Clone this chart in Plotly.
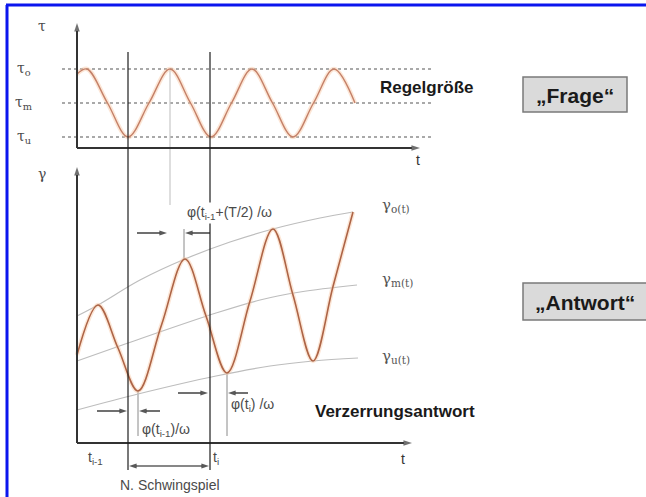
import plotly.graph_objects as go

W, H = 646, 497
FONT = "Liberation Sans, Arial, sans-serif"
GREEK = "DejaVu Serif, Liberation Serif, serif"

# ---------------- values (pixel-scale schematic) ----------------
# Top panel "Regelgröße"
TAU_LEVEL_Y = [69, 103, 137]                       # tau_o, tau_m, tau_u
TAU_LEVEL_LABELS = ["τ<sub>o</sub>", "τ<sub>m</sub>", "τ<sub>u</sub>"]
TAU_DASH_X = [62, 432]

TOP_WAVE_X = [77, 87, 107.5, 128, 149, 170, 190.5, 211, 231.5, 252, 272.5, 293, 313.5, 334, 355]
TOP_WAVE_Y = [74, 69, 103, 137, 103, 69, 103, 137, 103, 69, 103, 137, 103, 69, 103]

# Bottom panel "Verzerrungsantwort"
BOT_WAVE_X = [77, 98, 118, 138, 161.5, 185, 206, 227, 250, 273, 293, 313, 333, 353]
BOT_WAVE_Y = [355, 305, 348, 391, 325, 259, 316, 373, 301, 229, 295, 361, 286.5, 212]

ENV_O_X = [77, 98, 140, 185, 230, 273, 320, 353]
ENV_O_Y = [316, 305, 280, 259, 242, 229, 218, 212]
ENV_M_X = [77, 128, 216, 260, 300, 357]
ENV_M_Y = [361, 343, 313, 300, 292, 285]
ENV_U_X = [77, 138, 216, 270, 313, 358]
ENV_U_Y = [410, 394, 376, 366, 361, 358]
ENV_LABELS = ["γ<sub>o(t)</sub>", "γ<sub>m(t)</sub>", "γ<sub>u(t)</sub>"]
ENV_LABEL_Y = [205, 279, 356]
ENV_LABEL_X = 380

# axes (origin, ends)
AXIS_X0 = 77
TOP_AXIS = dict(y0=148, ytop=23, xend=420)
BOT_AXIS = dict(y0=443, ytop=167, xend=412)

# cursor lines t_{i-1} / t_i
CURSOR_X = [128, 210]
CURSOR_Y = [52, 470]

# phase annotations: (text, x_left, y, arrow1 tail/head, arrow2 tail/head, arrow y, guide line (x, y0, y1))
PHASES = [
    ("φ(t<sub>i-1</sub>+(T/2) /ω", 185, 213, (137, 167), (210, 185), 233, (184, 229, 260)),
    ("φ(t<sub>i-1</sub>)/ω", 140, 430, (97, 127), (160, 139), 411, (138, 391, 436)),
    ("φ(t<sub>i</sub>) /ω", 229, 405, (178, 208), (248, 228), 393, (227, 373, 436)),
]
GUIDE_TOP = (170, 70, 205)

SCHWING = dict(x0=129, x1=209, y=466, label="N. Schwingspiel", ly=485)

# ---------------- figure ----------------
fig = go.Figure()

def curve(x, y, color, width, shape="spline"):
    fig.add_trace(go.Scatter(x=x, y=y, mode="lines",
                             line=dict(color=color, width=width, shape=shape),
                             hoverinfo="skip", showlegend=False))

def arrow(xt, yt, xh, yh, width=1.2, size=8, color="#111"):
    fig.add_trace(go.Scatter(x=[xt, xh], y=[yt, yh], mode="lines+markers",
                             line=dict(color=color, width=width),
                             marker=dict(symbol="arrow", angleref="previous",
                                         size=[0, size], color=color,
                                         line=dict(width=0)),
                             hoverinfo="skip", showlegend=False, cliponaxis=False))

# envelopes
for ex, ey in [(ENV_O_X, ENV_O_Y), (ENV_M_X, ENV_M_Y), (ENV_U_X, ENV_U_Y)]:
    curve(ex, ey, "#bdbdbd", 1.2)

# waves with faint halo
curve(TOP_WAVE_X, TOP_WAVE_Y, "rgba(248,200,165,0.45)", 4.5)
curve(TOP_WAVE_X, TOP_WAVE_Y, "#c48068", 1.4)
curve(BOT_WAVE_X, BOT_WAVE_Y, "rgba(248,200,165,0.45)", 4.5)
curve(BOT_WAVE_X, BOT_WAVE_Y, "#ad6446", 1.6)

shapes = []
annots = []

def line(x0, y0, x1, y1, color="#222", width=1.2, dash=None, layer="below"):
    shapes.append(dict(type="line", xref="x", yref="y", x0=x0, y0=y0, x1=x1, y1=y1,
                       line=dict(color=color, width=width, dash=dash), layer=layer))

def text(x, y, s, size=13, color="#4a4a4a", xanchor="center", bold=False, bg=None, family=FONT):
    if bold:
        s = "<b>" + s + "</b>"
    a = dict(x=x, y=y, xref="x", yref="y", text=s, showarrow=False, xanchor=xanchor,
             yanchor="middle", font=dict(family=family, size=size, color=color))
    if bg:
        a["bgcolor"] = bg
        a["borderpad"] = 1
    annots.append(a)

# blue frame (left and top)
line(7, 5, 7, H, color="#0b16ee", width=3, layer="above")
line(6, 5, W, 5, color="#0b16ee", width=3, layer="above")

# dashed tau levels
for ly in TAU_LEVEL_Y:
    line(TAU_DASH_X[0], ly, TAU_DASH_X[1], ly, color="#555", width=1.2, dash="3px,3px")
for ly, lab in zip(TAU_LEVEL_Y, TAU_LEVEL_LABELS):
    text(24, ly, lab, size=14, family=GREEK)

# cursor lines
for cx in CURSOR_X:
    line(cx, CURSOR_Y[0], cx, CURSOR_Y[1], color="#1e1e1e", width=1.2, layer="above")
line(GUIDE_TOP[0], GUIDE_TOP[1], GUIDE_TOP[0], GUIDE_TOP[2], color="#c8c8c8", width=1.2)

# axes with arrow heads
for ax_ in (TOP_AXIS, BOT_AXIS):
    arrow(AXIS_X0, ax_["y0"], AXIS_X0, ax_["ytop"], width=2, size=9, color="#333")
    arrow(AXIS_X0, ax_["y0"], ax_["xend"], ax_["y0"], width=2, size=9, color="#333")

text(42, 26, "τ", size=14, family=GREEK)
text(418, 160, "t", size=14, color="#333")
text(42, 174, "γ", size=14, family=GREEK)
text(403, 459, "t", size=14, color="#333")
text(95, 458, "t<sub>i-1</sub>", size=14)
text(211, 458, "t<sub>i</sub>", size=14, xanchor="left")

# phase shift markers
for lab, tx, ty, a1, a2, ay, g in PHASES:
    line(g[0], g[1], g[0], g[2], color="#8a8a8a", width=1)
    arrow(a1[0], ay, a1[1], ay)
    arrow(a2[0], ay, a2[1], ay)
    text(tx, ty, lab, size=14, xanchor="left", bg="white" if ty < 300 else None)

# N. Schwingspiel (double arrow)
xm = (SCHWING["x0"] + SCHWING["x1"]) / 2
arrow(xm, SCHWING["y"], SCHWING["x1"], SCHWING["y"])
arrow(xm, SCHWING["y"], SCHWING["x0"], SCHWING["y"])
text(xm + 1, SCHWING["ly"], SCHWING["label"], size=14)

# envelope labels
for ly, lab in zip(ENV_LABEL_Y, ENV_LABELS):
    text(ENV_LABEL_X, ly, lab, size=15, color="#555", xanchor="left", family=GREEK)

# bold captions
text(427, 87, "Regelgröße", size=17, color="#1a1a1a", bold=True)
text(395, 411, "Verzerrungsantwort", size=17, color="#1a1a1a", bold=True)

# boxes
shapes.append(dict(type="rect", xref="x", yref="y", x0=523, y0=77, x1=627, y1=112,
                   fillcolor="#dadada", line=dict(color="#7a7a7a", width=1.5), layer="below"))
text(575, 95, "„Frage“", size=21, color="#1a1a1a", bold=True)
shapes.append(dict(type="rect", xref="x", yref="y", x0=523, y0=283, x1=650, y1=320,
                   fillcolor="#dadada", line=dict(color="#7a7a7a", width=1.5), layer="below"))
text(585, 302, "„Antwort“", size=21, color="#1a1a1a", bold=True)

fig.update_layout(
    width=W, height=H, margin=dict(l=0, r=0, t=0, b=0),
    paper_bgcolor="white", plot_bgcolor="white",
    xaxis=dict(range=[0, W], visible=False, fixedrange=True),
    yaxis=dict(range=[H, 0], visible=False, fixedrange=True),
    shapes=shapes, annotations=annots, showlegend=False,
)

fig.write_html("out.html", config={"displayModeBar": False},
               post_script="document.body.style.margin='0';document.body.style.overflow='hidden';")
